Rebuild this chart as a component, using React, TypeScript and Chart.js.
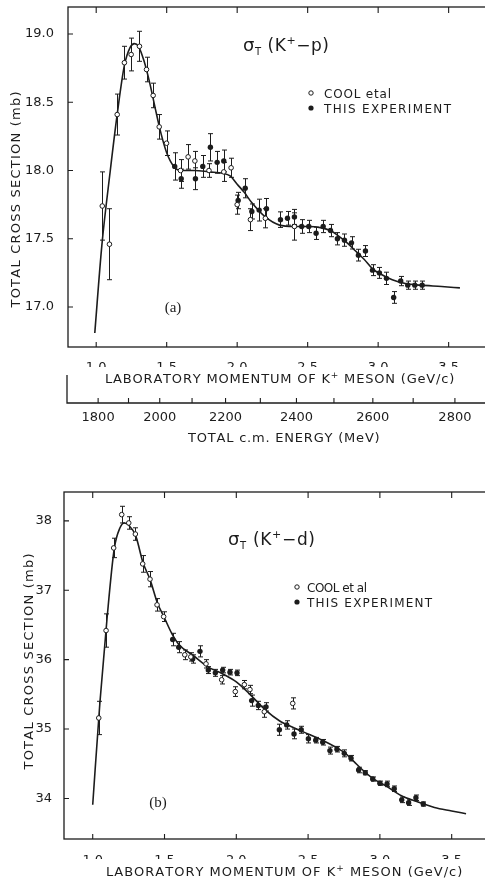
import React, { useEffect, useRef } from 'react';
import { Chart, registerables } from 'chart.js';

Chart.register(...registerables);

const INK = '#1c1c1c';
const SANS = 'DejaVu Sans';
const SERIF = 'Liberation Serif';

// ---------- axes ----------
const X_TICKS = [1.0, 1.5, 2.0, 2.5, 3.0, 3.5];
const KP_Y_TICKS = [17.0, 17.5, 18.0, 18.5, 19.0];
const KD_Y_TICKS = [34, 35, 36, 37, 38];
const ENERGY_TICKS_MEV = [1800, 1900, 2000, 2100, 2200, 2300, 2400, 2500, 2600, 2700, 2800];
const ENERGY_LABELS = ['1800', '', '2000', '', '2200', '', '2400', '', '2600', '', '2800'];

// ---------- (a) K+ p ----------
const KP_COOL_P = [1.043, 1.094, 1.149, 1.2, 1.248, 1.307, 1.357, 1.404, 1.447, 1.499, 1.598, 1.652, 1.7, 1.8, 1.905, 1.957, 2.0, 2.094, 2.2, 2.406];
const KP_COOL_S = [17.74, 17.46, 18.41, 18.79, 18.85, 18.91, 18.74, 18.55, 18.32, 18.2, 18.0, 18.1, 18.07, 18.0, 17.99, 18.02, 17.75, 17.64, 17.65, 17.59];
const KP_COOL_E = [0.25, 0.26, 0.15, 0.12, 0.12, 0.11, 0.09, 0.09, 0.09, 0.09, 0.08, 0.09, 0.07, 0.05, 0.07, 0.07, 0.07, 0.08, 0.07, 0.1];

const KP_EXP_P = [1.557, 1.603, 1.704, 1.756, 1.81, 1.858, 1.905, 2.007, 2.057, 2.104, 2.156, 2.208, 2.307, 2.357, 2.406, 2.458, 2.508, 2.56, 2.61, 2.662, 2.711, 2.761, 2.811, 2.86, 2.91, 2.96, 3.009, 3.059, 3.11, 3.16, 3.21, 3.26, 3.312];
const KP_EXP_S = [18.03, 17.94, 17.94, 18.03, 18.17, 18.06, 18.07, 17.78, 17.87, 17.7, 17.71, 17.72, 17.64, 17.65, 17.66, 17.59, 17.59, 17.54, 17.59, 17.56, 17.5, 17.49, 17.47, 17.38, 17.41, 17.27, 17.25, 17.21, 17.07, 17.19, 17.16, 17.16, 17.16];
const KP_EXP_E = [0.1, 0.07, 0.08, 0.08, 0.1, 0.08, 0.08, 0.06, 0.07, 0.055, 0.08, 0.075, 0.057, 0.05, 0.055, 0.05, 0.045, 0.045, 0.045, 0.045, 0.045, 0.045, 0.045, 0.043, 0.04, 0.04, 0.04, 0.045, 0.043, 0.034, 0.03, 0.03, 0.03];

const KP_CURVE_P = [0.99, 1.04, 1.1, 1.15, 1.2, 1.24, 1.27, 1.3, 1.34, 1.38, 1.42, 1.46, 1.5, 1.55, 1.6, 1.7, 1.8, 1.9, 1.95, 2.0, 2.05, 2.1, 2.2, 2.3, 2.4, 2.5, 2.6, 2.66, 2.72, 2.78, 2.84, 2.9, 2.96, 3.02, 3.1, 3.2, 3.3, 3.45, 3.58];
const KP_CURVE_S = [16.81, 17.45, 18.0, 18.42, 18.77, 18.9, 18.93, 18.91, 18.8, 18.64, 18.45, 18.27, 18.13, 18.03, 18.0, 18.0, 17.99, 17.98, 17.96, 17.9, 17.84, 17.77, 17.66, 17.6, 17.59, 17.59, 17.58, 17.56, 17.52, 17.47, 17.41, 17.35, 17.28, 17.24, 17.2, 17.17, 17.16, 17.15, 17.14];

// ---------- (b) K+ d ----------
const KD_COOL_P = [1.042, 1.093, 1.146, 1.202, 1.251, 1.297, 1.348, 1.399, 1.448, 1.494, 1.641, 1.683, 1.789, 1.898, 1.993, 2.056, 2.095, 2.195, 2.393];
const KD_COOL_S = [35.16, 36.42, 37.61, 38.09, 37.97, 37.81, 37.38, 37.16, 36.79, 36.62, 36.07, 36.04, 35.94, 35.71, 35.54, 35.64, 35.57, 35.25, 35.37];
const KD_COOL_E = [0.24, 0.24, 0.14, 0.12, 0.09, 0.09, 0.12, 0.11, 0.09, 0.07, 0.07, 0.06, 0.06, 0.06, 0.07, 0.06, 0.06, 0.08, 0.08];

const KD_EXP_P = [1.557, 1.599, 1.696, 1.747, 1.805, 1.854, 1.905, 1.956, 2.005, 2.107, 2.153, 2.207, 2.3, 2.351, 2.402, 2.452, 2.502, 2.553, 2.602, 2.652, 2.701, 2.752, 2.799, 2.852, 2.898, 2.95, 3.0, 3.05, 3.1, 3.152, 3.2, 3.251, 3.302];
const KD_EXP_S = [36.29, 36.18, 36.01, 36.12, 35.85, 35.81, 35.85, 35.82, 35.81, 35.41, 35.34, 35.32, 34.99, 35.06, 34.93, 34.99, 34.86, 34.84, 34.81, 34.69, 34.71, 34.65, 34.58, 34.41, 34.37, 34.28, 34.22, 34.21, 34.14, 33.98, 33.94, 34.01, 33.92];
const KD_EXP_E = [0.09, 0.08, 0.06, 0.08, 0.05, 0.05, 0.04, 0.04, 0.04, 0.08, 0.06, 0.06, 0.08, 0.06, 0.07, 0.05, 0.06, 0.04, 0.04, 0.05, 0.04, 0.05, 0.04, 0.04, 0.03, 0.03, 0.03, 0.04, 0.04, 0.04, 0.04, 0.04, 0.03];

const KD_CURVE_P = [1.0, 1.05, 1.1, 1.15, 1.19, 1.22, 1.25, 1.3, 1.35, 1.4, 1.45, 1.5, 1.55, 1.6, 1.7, 1.8, 1.9, 2.0, 2.1, 2.2, 2.3, 2.4, 2.5, 2.6, 2.7, 2.76, 2.82, 2.88, 2.95, 3.05, 3.15, 3.25, 3.38, 3.5, 3.6];
const KD_CURVE_S = [33.91, 35.38, 36.6, 37.6, 37.9, 37.97, 37.94, 37.78, 37.4, 37.15, 36.82, 36.6, 36.38, 36.22, 36.06, 35.9, 35.8, 35.68, 35.49, 35.28, 35.12, 35.02, 34.93, 34.84, 34.73, 34.65, 34.53, 34.41, 34.29, 34.17, 34.04, 33.96, 33.87, 33.82, 33.78];

// kinematics for the c.m. energy axis (GeV)
const M_K = 0.4937;
const M_P = 0.9383;
function labMomentum(mev: number): number {
  const w = mev / 1000;
  const e = (w * w - M_K * M_K - M_P * M_P) / (2 * M_P);
  return Math.sqrt(e * e - M_K * M_K);
}

type Seg = { t: string; size: number; dy?: number; family?: string };

function drawSegs(ctx: CanvasRenderingContext2D, segs: Seg[], x: number, y: number, width?: number, align: 'left' | 'center' = 'left') {
  ctx.save();
  ctx.textBaseline = 'alphabetic';
  ctx.textAlign = 'left';
  ctx.fillStyle = INK;
  let natural = 0;
  let n = 0;
  for (const s of segs) {
    ctx.font = `${s.size}px "${s.family || SANS}"`;
    natural += ctx.measureText(s.t).width;
    n += s.t.length;
  }
  const sp = width ? (width - natural) / Math.max(n - 1, 1) : 0;
  const total = natural + sp * (n - 1);
  let cx = align === 'center' ? x - total / 2 : x;
  for (const s of segs) {
    ctx.font = `${s.size}px "${s.family || SANS}"`;
    for (const ch of s.t) {
      ctx.fillText(ch, cx, y + (s.dy || 0));
      cx += ctx.measureText(ch).width + sp;
    }
  }
  ctx.restore();
}

function drawRotated(ctx: CanvasRenderingContext2D, text: string, cx: number, cy: number, width: number) {
  ctx.save();
  ctx.translate(cx, cy);
  ctx.rotate(-Math.PI / 2);
  drawSegs(ctx, [{ t: text, size: 13 }], 0, 4.7, width, 'center');
  ctx.restore();
}

function marker(ctx: CanvasRenderingContext2D, x: number, y: number, open: boolean) {
  ctx.save();
  ctx.beginPath();
  ctx.arc(x, y, open ? 2.2 : 2.6, 0, Math.PI * 2);
  if (open) {
    ctx.fillStyle = '#fff';
    ctx.fill();
    ctx.strokeStyle = INK;
    ctx.lineWidth = 1;
    ctx.stroke();
  } else {
    ctx.fillStyle = INK;
    ctx.fill();
  }
  ctx.restore();
}

interface Series { p: number[]; s: number[]; e: number[] }
interface Panel {
  w: number; h: number;
  padTop: number; padBottom: number; padRight: number;
  yAxisW: number; xLabelPad: number; yLabelPad: number;
  xMin: number; xMax: number; yMin: number; yMax: number;
  yTicks: number[]; yFmt: (v: number) => string;
  cool: Series; exp: Series; curveP: number[]; curveS: number[];
  decorate: (ctx: CanvasRenderingContext2D, chart: any) => void;
}

const pts = (p: number[], s: number[]) => p.map((v, i) => ({ x: v, y: s[i] }));

function makeChart(canvas: HTMLCanvasElement, spec: Panel) {
  const plugin = {
    id: 'frameBars',
    beforeDatasetsDraw(chart: any) {
      const ctx = chart.ctx as CanvasRenderingContext2D;
      const xs = chart.scales.x;
      const ys = chart.scales.y;
      ctx.save();
      ctx.strokeStyle = INK;
      ctx.lineWidth = 1;
      for (const set of [spec.cool, spec.exp]) {
        set.p.forEach((p, i) => {
          const x = Math.round(xs.getPixelForValue(p)) + 0.5;
          const y1 = ys.getPixelForValue(set.s[i] - set.e[i]);
          const y2 = ys.getPixelForValue(set.s[i] + set.e[i]);
          ctx.beginPath();
          ctx.moveTo(x, y1); ctx.lineTo(x, y2);
          ctx.moveTo(x - 2.5, y1); ctx.lineTo(x + 2.5, y1);
          ctx.moveTo(x - 2.5, y2); ctx.lineTo(x + 2.5, y2);
          ctx.stroke();
        });
      }
      ctx.restore();
    },
    afterDraw(chart: any) {
      const ctx = chart.ctx as CanvasRenderingContext2D;
      const a = chart.chartArea;
      const xs = chart.scales.x;
      const ys = chart.scales.y;
      ctx.save();
      ctx.strokeStyle = INK;
      ctx.lineWidth = 1.3;
      ctx.strokeRect(a.left, a.top, a.right - a.left, a.bottom - a.top);
      ctx.lineWidth = 1.1;
      ctx.beginPath();
      for (const v of X_TICKS) {
        const px = xs.getPixelForValue(v);
        ctx.moveTo(px, a.bottom); ctx.lineTo(px, a.bottom - 5);
        ctx.moveTo(px, a.top); ctx.lineTo(px, a.top + 6);
      }
      for (const v of spec.yTicks) {
        const py = ys.getPixelForValue(v);
        ctx.moveTo(a.left, py); ctx.lineTo(a.left + 5, py);
      }
      ctx.stroke();
      ctx.restore();
      spec.decorate(ctx, chart);
    },
  };

  return new Chart(canvas, {
    type: 'scatter',
    data: {
      datasets: [
        {
          label: 'COOL etal',
          data: pts(spec.cool.p, spec.cool.s),
          pointRadius: 2.3,
          pointBorderWidth: 1,
          pointBackgroundColor: '#fff',
          pointBorderColor: INK,
        },
        {
          label: 'THIS EXPERIMENT',
          data: pts(spec.exp.p, spec.exp.s),
          pointRadius: 2.7,
          pointBorderWidth: 0,
          pointBackgroundColor: INK,
          pointBorderColor: INK,
        },
        {
          label: 'fit',
          data: pts(spec.curveP, spec.curveS),
          showLine: true,
          pointRadius: 0,
          borderColor: INK,
          borderWidth: 1.6,
          cubicInterpolationMode: 'monotone',
          fill: false,
        } as any,
      ],
    },
    options: {
      responsive: false,
      animation: false,
      devicePixelRatio: 1,
      events: [],
      layout: { padding: { top: spec.padTop, bottom: spec.padBottom, left: 0, right: spec.padRight } },
      plugins: { legend: { display: false }, tooltip: { enabled: false } },
      scales: {
        x: {
          type: 'linear',
          min: spec.xMin,
          max: spec.xMax,
          grid: { display: false },
          border: { display: false },
          afterBuildTicks: (s: any) => { s.ticks = X_TICKS.map((value) => ({ value })); },
          afterFit: (s: any) => { s.height = 20; s.paddingLeft = 0; s.paddingRight = 0; },
          ticks: {
            color: INK,
            font: { family: SANS, size: 13 },
            padding: spec.xLabelPad,
            maxRotation: 0,
            autoSkip: false,
            callback: (v: any) => Number(v).toFixed(1),
          },
        },
        y: {
          type: 'linear',
          min: spec.yMin,
          max: spec.yMax,
          grid: { display: false },
          border: { display: false },
          afterBuildTicks: (s: any) => { s.ticks = spec.yTicks.map((value) => ({ value })); },
          afterFit: (s: any) => { s.width = spec.yAxisW; s.paddingTop = 0; s.paddingBottom = 0; },
          ticks: {
            color: INK,
            font: { family: SANS, size: 13 },
            padding: spec.yLabelPad,
            autoSkip: false,
            callback: (v: any) => spec.yFmt(Number(v)),
          },
        },
      },
    },
    plugins: [plugin as any],
  });
}

function legend(ctx: CanvasRenderingContext2D, mx: number, tx: number, y1: number, y2: number, coolText: string, w1: number, w2: number) {
  marker(ctx, mx, y1, true);
  drawSegs(ctx, [{ t: coolText, size: 12 }], tx, y1 + 4.5, w1);
  marker(ctx, mx, y2, false);
  drawSegs(ctx, [{ t: 'THIS EXPERIMENT', size: 12 }], tx, y2 + 4.5, w2);
}

const TOP: Panel = {
  w: 492, h: 450, padTop: 7, padBottom: 83, padRight: 6,
  yAxisW: 68, xLabelPad: 5, yLabelPad: 6,
  xMin: 0.8, xMax: 3.765, yMin: 16.707, yMax: 19.198,
  yTicks: KP_Y_TICKS, yFmt: (v) => v.toFixed(1),
  cool: { p: KP_COOL_P, s: KP_COOL_S, e: KP_COOL_E },
  exp: { p: KP_EXP_P, s: KP_EXP_S, e: KP_EXP_E },
  curveP: KP_CURVE_P, curveS: KP_CURVE_S,
  decorate: (ctx, chart) => {
    const xs = chart.scales.x;
    drawSegs(ctx, [
      { t: 'σ', size: 18 }, { t: 'T', size: 10, dy: 4 }, { t: ' (K', size: 17 },
      { t: '+', size: 11, dy: -7 }, { t: '−p)', size: 17 },
    ], 243, 51, 86);
    legend(ctx, 311, 324, 93, 108, 'COOL etal', 67, 127);
    drawSegs(ctx, [{ t: '(a)', size: 15, family: SERIF }], 173, 312, undefined, 'center');
    drawSegs(ctx, [
      { t: 'LABORATORY MOMENTUM OF K', size: 13 }, { t: '+', size: 9, dy: -5 }, { t: ' MESON (GeV/c)', size: 13 },
    ], 278.5, 383, 347, 'center');
    drawRotated(ctx, 'TOTAL CROSS SECTION (mb)', 15, 200, 215);

    // c.m. energy axis
    ctx.save();
    ctx.strokeStyle = INK;
    ctx.lineWidth = 1.3;
    ctx.beginPath();
    ctx.moveTo(67, 375); ctx.lineTo(67, 403); ctx.lineTo(chart.width, 403);
    ctx.stroke();
    ctx.lineWidth = 1.1;
    ctx.beginPath();
    ENERGY_TICKS_MEV.forEach((mev) => {
      const px = xs.getPixelForValue(labMomentum(mev));
      ctx.moveTo(px, 403); ctx.lineTo(px, 398);
    });
    ctx.stroke();
    ctx.restore();
    ENERGY_TICKS_MEV.forEach((mev, i) => {
      if (!ENERGY_LABELS[i]) return;
      const px = xs.getPixelForValue(labMomentum(mev));
      drawSegs(ctx, [{ t: ENERGY_LABELS[i], size: 13 }], px, 421, undefined, 'center');
    });
    drawSegs(ctx, [{ t: 'TOTAL c.m. ENERGY (MeV)', size: 13 }], 283, 442, 190, 'center');
  },
};

const BOTTOM: Panel = {
  w: 492, h: 432, padTop: 42, padBottom: 23, padRight: 6,
  yAxisW: 64, xLabelPad: 6, yLabelPad: 4,
  xMin: 0.8, xMax: 3.739, yMin: 33.416, yMax: 38.416,
  yTicks: KD_Y_TICKS, yFmt: (v) => String(Math.round(v)),
  cool: { p: KD_COOL_P, s: KD_COOL_S, e: KD_COOL_E },
  exp: { p: KD_EXP_P, s: KD_EXP_S, e: KD_EXP_E },
  curveP: KD_CURVE_P, curveS: KD_CURVE_S,
  decorate: (ctx) => {
    drawSegs(ctx, [
      { t: 'σ', size: 18 }, { t: 'T', size: 10, dy: 4 }, { t: ' (K', size: 17 },
      { t: '+', size: 11, dy: -7 }, { t: '−d)', size: 17 },
    ], 228, 95, 87);
    legend(ctx, 297, 307, 137, 152, 'COOL et al', 60, 125);
    drawSegs(ctx, [{ t: '(b)', size: 15, family: SERIF }], 158, 357, undefined, 'center');
    drawSegs(ctx, [
      { t: 'LABORATORY MOMENTUM OF K', size: 13 }, { t: '+', size: 9, dy: -5 }, { t: ' MESON (GeV/c)', size: 13 },
    ], 283, 426, 354, 'center');
    drawRotated(ctx, 'TOTAL CROSS SECTION (mb)', 28, 212, 215);
  },
};

export default function App() {
  const topRef = useRef<HTMLCanvasElement>(null);
  const botRef = useRef<HTMLCanvasElement>(null);

  useEffect(() => {
    const charts: Chart[] = [];
    if (topRef.current) charts.push(makeChart(topRef.current, TOP));
    if (botRef.current) charts.push(makeChart(botRef.current, BOTTOM));
    return () => charts.forEach((c) => c.destroy());
  }, []);

  return (
    <div style={{ position: 'fixed', left: 0, top: 0, width: 485, height: 882, overflow: 'hidden', background: '#fff' }}>
      <canvas ref={topRef} width={TOP.w} height={TOP.h} style={{ display: 'block', width: TOP.w, height: TOP.h }} />
      <canvas ref={botRef} width={BOTTOM.w} height={BOTTOM.h} style={{ display: 'block', width: BOTTOM.w, height: BOTTOM.h }} />
    </div>
  );
}
